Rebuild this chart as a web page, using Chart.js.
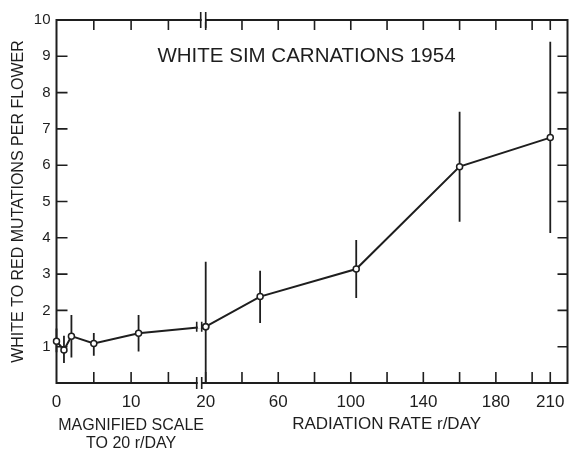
<!DOCTYPE html>
<html><head><meta charset="utf-8">
<script src="https://cdn.jsdelivr.net/npm/chart.js@4"></script>
<style>html,body{margin:0;padding:0;background:#fff}#wrap{width:573px;height:455px;position:relative}canvas{display:block}</style>
</head><body><div id="wrap"><canvas id="c" width="573" height="455"></canvas></div>
<script>
// ---- data ----
const magDose  = [0, 1, 2, 5, 11, 20];            // r/day, magnified scale
const magRate  = [1.15, 0.91, 1.29, 1.09, 1.37, 1.55];
const magLow   = [0.85, 0.55, 0.70, 0.75, 0.87, 0.0];
const magHigh  = [1.50, 1.30, 1.87, 1.38, 1.87, 3.34];
const regDose  = [20, 50, 103, 160, 210];          // r/day, regular scale
const regRate  = [1.55, 2.38, 3.14, 5.96, 6.76];
const regLow   = [null, 1.65, 2.34, 4.44, 4.13];
const regHigh  = [null, 3.09, 3.94, 7.47, 9.40];
const magTicks  = [0, 5, 10, 15, 20];
const magLabels = [0, 10, 20];
const regTicks  = [20, 40, 60, 80, 100, 120, 140, 160, 180, 200, 210];
const regLabels = [60, 100, 140, 180, 210];
const yTicks    = [1, 2, 3, 4, 5, 6, 7, 8, 9];
const titleText = 'WHITE SIM CARNATIONS 1954';
const yTitle    = 'WHITE TO RED MUTATIONS PER FLOWER';
const magTitle  = ['MAGNIFIED SCALE', 'TO 20 r/DAY'];
const regTitle  = 'RADIATION RATE r/DAY';

const INK = '#1e1e1e';
const FONT = '"Liberation Sans", Arial, sans-serif';

function pts(xs, ys) { return xs.map((x, i) => ({x: x, y: ys[i]})); }
function bars(xs, lo, hi) {
  const out = [];
  xs.forEach((x, i) => {
    if (lo[i] === null) return;
    out.push({x: x, y: lo[i]}, {x: x, y: hi[i]}, {x: x, y: null});
  });
  return out;
}

const framePlugin = {
  id: 'frame',
  beforeDatasetsDraw(chart) {
    const {ctx, chartArea: a, scales} = chart;
    const x1 = scales.x1, x2 = scales.x2, y = scales.y;
    ctx.save();
    ctx.strokeStyle = INK;
    ctx.lineWidth = 2;
    ctx.strokeRect(a.left, a.top, a.right - a.left, a.bottom - a.top);
    ctx.lineWidth = 1.6;
    ctx.beginPath();
    const xs = magTicks.filter(v => v > 0 && v < 20).map(v => x1.getPixelForValue(v))
      .concat(regTicks.filter(v => v > 20).map(v => x2.getPixelForValue(v)))
      .concat([x1.getPixelForValue(20)]);
    xs.forEach(px => {
      ctx.moveTo(px, a.bottom); ctx.lineTo(px, a.bottom - 11);
      ctx.moveTo(px, a.top); ctx.lineTo(px, a.top + 10);
    });
    yTicks.forEach(v => {
      const py = y.getPixelForValue(v);
      ctx.moveTo(a.left, py); ctx.lineTo(a.left + 11, py);
      ctx.moveTo(a.right, py); ctx.lineTo(a.right - 10, py);
    });
    ctx.stroke();
    ctx.restore();
  },
  afterDatasetsDraw(chart) {
    const {ctx, chartArea: a, scales} = chart;
    const bx = scales.x1.getPixelForValue(20);
    const ly = scales.y.getPixelForValue(magRate[magRate.length - 1]);
    ctx.save();
    ctx.strokeStyle = INK;
    ctx.lineWidth = 1.6;
    [[a.bottom, 6, 0], [a.top, 8, 4], [ly, 5, 0]].forEach(([yy, h, dx]) => {
      ctx.fillStyle = '#fff';
      ctx.fillRect(bx - 8 + dx, yy - 2, 4, 4);
      ctx.beginPath();
      ctx.moveTo(bx - 9 + dx, yy - h); ctx.lineTo(bx - 9 + dx, yy + h);
      ctx.moveTo(bx - 4 + dx, yy - h); ctx.lineTo(bx - 4 + dx, yy + h);
      ctx.stroke();
    });
    // title inside the plot
    ctx.fillStyle = INK;
    ctx.font = '20.5px ' + FONT;
    ctx.textAlign = 'center';
    ctx.textBaseline = 'middle';
    ctx.fillText(titleText, a.left + 250, a.top + 36);
    ctx.restore();
  }
};

const lineStyle = {
  borderColor: INK, borderWidth: 2, pointRadius: 3, pointBackgroundColor: '#fff',
  pointBorderColor: INK, pointBorderWidth: 1.5, tension: 0, yAxisID: 'y', order: 1, clip: false
};
const barStyle = {
  borderColor: INK, borderWidth: 1.8, pointRadius: 0, spanGaps: false, yAxisID: 'y', order: 2, clip: false
};

new Chart(document.getElementById('c'), {
  type: 'line',
  data: {
    datasets: [
      Object.assign({label: 'mag', data: pts(magDose, magRate), xAxisID: 'x1'}, lineStyle),
      Object.assign({label: 'reg', data: pts(regDose, regRate), xAxisID: 'x2'}, lineStyle),
      Object.assign({label: 'magErr', data: bars(magDose, magLow, magHigh), xAxisID: 'x1'}, barStyle),
      Object.assign({label: 'regErr', data: bars(regDose, regLow, regHigh), xAxisID: 'x2'}, barStyle)
    ]
  },
  options: {
    responsive: false,
    animation: false,
    devicePixelRatio: 1,
    layout: {padding: {top: 20, right: 4.5, left: 0, bottom: 0}},
    plugins: {legend: {display: false}, tooltip: {enabled: false}},
    scales: {
      x1: {
        type: 'linear', position: 'bottom', stack: 'xs', stackWeight: 149.5,
        min: 0, max: 20,
        grid: {display: false, drawTicks: false}, border: {display: false},
        afterBuildTicks: s => { s.ticks = magTicks.map(v => ({value: v})); },
        afterFit: s => { s.height = 72; s.paddingLeft = 0; s.paddingRight = 0; },
        ticks: {autoSkip: false, maxRotation: 0, padding: 9, color: INK,
          font: {family: FONT, size: 17},
          callback: v => magLabels.includes(v) ? String(v) : ''},
        title: {display: true, text: magTitle, color: INK,
          font: {family: FONT, size: 16, lineHeight: 1.15}, padding: {top: 0, bottom: 2}}
      },
      x2: {
        type: 'linear', position: 'bottom', stack: 'xs', stackWeight: 362.5,
        min: 20, max: 219.5,
        grid: {display: false, drawTicks: false}, border: {display: false},
        afterBuildTicks: s => { s.ticks = regTicks.map(v => ({value: v})); },
        afterFit: s => { s.height = 72; s.paddingLeft = 0; s.paddingRight = 0; },
        ticks: {autoSkip: false, maxRotation: 0, padding: 9, color: INK,
          font: {family: FONT, size: 17},
          callback: v => regLabels.includes(v) ? String(v) : ''},
        title: {display: true, text: regTitle, color: INK,
          font: {family: FONT, size: 17, lineHeight: 1.15}, padding: {top: 0, bottom: 21}}
      },
      y: {
        type: 'linear', position: 'left', min: 0, max: 10,
        grid: {display: false, drawTicks: false}, border: {display: false},
        afterFit: s => { s.width = 56.5; },
        ticks: {stepSize: 1, padding: 6, color: INK, font: {family: FONT, size: 15},
          callback: v => v === 0 ? '' : String(v)},
        title: {display: true, text: yTitle, color: INK,
          font: {family: FONT, size: 16, lineHeight: 1.2}, padding: {top: 9, bottom: 0}}
      }
    }
  },
  plugins: [framePlugin]
});
</script>
</body></html>
